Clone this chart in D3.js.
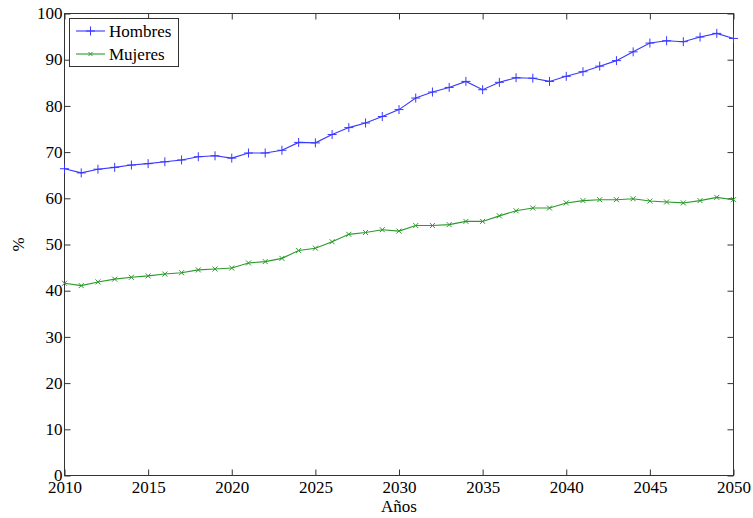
<!DOCTYPE html>
<html><head><meta charset="utf-8">
<script src="https://cdn.jsdelivr.net/npm/d3@7"></script>
<style>body{margin:0;background:#fff}svg{display:block}</style>
</head><body>
<script>
const years = d3.range(2010, 2051);
const hombres = [66.4,65.5,66.3,66.7,67.2,67.5,67.9,68.3,69.0,69.2,68.7,69.8,69.8,70.4,72.1,72.0,73.8,75.3,76.3,77.7,79.2,81.7,83.0,84.0,85.3,83.5,85.1,86.1,86.0,85.3,86.4,87.4,88.6,89.8,91.7,93.6,94.1,93.9,94.9,95.7,94.6];
const mujeres = [41.6,41.1,41.9,42.5,42.9,43.2,43.6,43.9,44.5,44.7,44.9,46.0,46.3,47.0,48.7,49.2,50.6,52.2,52.6,53.2,52.9,54.1,54.1,54.3,55.0,55.0,56.2,57.3,57.9,57.9,59.0,59.5,59.7,59.7,59.9,59.4,59.2,59.0,59.5,60.2,59.7];
const xTicks = d3.range(2010, 2051, 5);
const yTicks = d3.range(0, 101, 10);
const seriesNames = ["Hombres", "Mujeres"];

const W = 753, H = 518;
const m = {l: 64.5, t: 13.5, r: 733.5, b: 475.5};
const FONT = "Liberation Serif";
const FS = 17;
const svg = d3.select("body").append("svg").attr("width", W).attr("height", H);
const x = d3.scaleLinear().domain([2010, 2050]).range([m.l, m.r]);
const y = d3.scaleLinear().domain([0, 100]).range([m.b, m.t]);

const axisColor = "#333";
const tk = 6;
const gx = svg.append("g").attr("transform", `translate(0,${m.b})`)
  .call(d3.axisBottom(x).tickValues(xTicks).tickFormat(d3.format("d")).tickSizeInner(-tk).tickSizeOuter(0).tickPadding(5));
gx.selectAll("text").attr("dy", "0.75em");
svg.append("g").attr("transform", `translate(0,${m.t})`)
  .call(d3.axisTop(x).tickValues(xTicks).tickFormat("").tickSizeInner(-tk).tickSizeOuter(0));
const gy = svg.append("g").attr("transform", `translate(${m.l},0)`)
  .call(d3.axisLeft(y).tickValues(yTicks).tickSizeInner(-tk).tickSizeOuter(0).tickPadding(2));
gy.selectAll("text").attr("dy", "0.3em");
svg.append("g").attr("transform", `translate(${m.r},0)`)
  .call(d3.axisRight(y).tickValues(yTicks).tickFormat("").tickSizeInner(-tk).tickSizeOuter(0));
svg.selectAll(".domain").remove();
svg.selectAll(".tick line").attr("stroke", axisColor);
svg.selectAll(".tick text").attr("font-family", FONT).attr("font-size", FS).attr("fill", "#000");
svg.append("rect").attr("x", m.l).attr("y", m.t).attr("width", m.r - m.l).attr("height", m.b - m.t)
  .attr("fill", "none").attr("stroke", axisColor).attr("stroke-width", 1);

svg.append("text").attr("x", (m.l + m.r) / 2).attr("y", 512).attr("text-anchor", "middle")
  .attr("font-family", FONT).attr("font-size", FS).text("Años");
svg.append("text").attr("transform", `translate(24,${(m.t + m.b) / 2}) rotate(-90)`).attr("text-anchor", "middle")
  .attr("font-family", FONT).attr("font-size", FS).text("%");

const colors = ["#3838ff", "#2a9a2a"];
const data = [hombres, mujeres];
const line = d3.line().x((d, i) => x(years[i])).y(d => y(d));
function plus(g, cx, cy, s, c) {
  g.append("path").attr("d", `M${cx - s},${cy}H${cx + s}M${cx},${cy - s}V${cy + s}`).attr("stroke", c).attr("stroke-width", 1).attr("fill", "none");
}
function cross(g, cx, cy, s, c) {
  g.append("path").attr("d", `M${cx - s},${cy - s}L${cx + s},${cy + s}M${cx - s},${cy + s}L${cx + s},${cy - s}`).attr("stroke", c).attr("stroke-width", 1).attr("fill", "none");
}
data.forEach((vals, k) => {
  const g = svg.append("g");
  g.append("path").datum(vals).attr("d", line).attr("fill", "none").attr("stroke", colors[k]).attr("stroke-width", 1.1);
  vals.forEach((v, i) => {
    if (k === 0) plus(g, x(years[i]), y(v), 4.5, colors[k]);
    else cross(g, x(years[i]), y(v), 2.5, colors[k]);
  });
});

const lg = svg.append("g");
lg.append("rect").attr("x", 69.5).attr("y", 18.5).attr("width", 109).attr("height", 48).attr("fill", "#fff").attr("stroke", axisColor);
seriesNames.forEach((n, k) => {
  const ly = 31 + k * 23;
  lg.append("line").attr("x1", 76).attr("x2", 105).attr("y1", ly).attr("y2", ly).attr("stroke", colors[k]).attr("stroke-width", 1.1);
  if (k === 0) plus(lg, 90.5, ly, 4.5, colors[k]); else cross(lg, 90.5, ly, 2, colors[k]);
  lg.append("text").attr("x", 109).attr("y", ly).attr("dy", "0.35em")
    .attr("font-family", FONT).attr("font-size", FS).text(n);
});
</script>
</body></html>
